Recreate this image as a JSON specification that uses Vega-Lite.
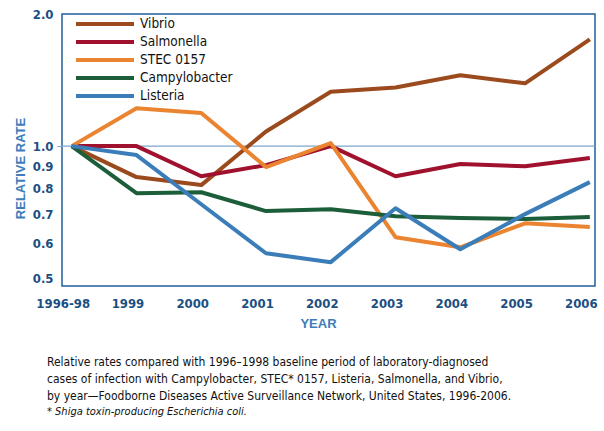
{
  "$schema": "https://vega.github.io/schema/vega-lite/v6.json",
  "autosize": {"type": "none"},
  "width": 533,
  "height": 272,
  "padding": {"left": 62, "top": 14, "right": 9, "bottom": 145},
  "background": "white",
  "config": {
    "view": {"stroke": "#1f5f99", "strokeWidth": 1.5},
    "font": "'DejaVu Sans Condensed', Roboto, sans-serif"
  },
  "title": {
    "text": ["Relative rates compared with 1996–1998 baseline period of laboratory-diagnosed", "cases of infection with Campylobacter, STEC* 0157, Listeria, Salmonella, and Vibrio,", "by year—Foodborne Diseases Active Surveillance Network, United States, 1996-2006."],
    "subtitle": "* Shiga toxin-producing Escherichia coli.",
    "orient": "bottom",
    "anchor": "start",
    "frame": "group",
    "dx": -15,
    "offset": 27,
    "font": "'DejaVu Sans Condensed', Roboto, sans-serif",
    "fontSize": 12,
    "fontWeight": "normal",
    "color": "#111111",
    "lineHeight": 17,
    "subtitleFont": "'DejaVu Sans Condensed', Roboto, sans-serif",
    "subtitleFontSize": 11,
    "subtitleFontStyle": "italic",
    "subtitleColor": "#111111",
    "subtitlePadding": 3
  },
  "data": {"values": [
    {"series": "Vibrio", "year": 1998, "rate": 1.0},
    {"series": "Vibrio", "year": 1999, "rate": 0.85},
    {"series": "Vibrio", "year": 2000, "rate": 0.815},
    {"series": "Vibrio", "year": 2001, "rate": 1.08},
    {"series": "Vibrio", "year": 2002, "rate": 1.33},
    {"series": "Vibrio", "year": 2003, "rate": 1.36},
    {"series": "Vibrio", "year": 2004, "rate": 1.45},
    {"series": "Vibrio", "year": 2005, "rate": 1.39},
    {"series": "Vibrio", "year": 2006, "rate": 1.75},
    {"series": "Salmonella", "year": 1998, "rate": 1.0},
    {"series": "Salmonella", "year": 1999, "rate": 1.0},
    {"series": "Salmonella", "year": 2000, "rate": 0.854},
    {"series": "Salmonella", "year": 2001, "rate": 0.905},
    {"series": "Salmonella", "year": 2002, "rate": 1.0},
    {"series": "Salmonella", "year": 2003, "rate": 0.854},
    {"series": "Salmonella", "year": 2004, "rate": 0.91},
    {"series": "Salmonella", "year": 2005, "rate": 0.9},
    {"series": "Salmonella", "year": 2006, "rate": 0.94},
    {"series": "STEC 0157", "year": 1998, "rate": 1.0},
    {"series": "STEC 0157", "year": 1999, "rate": 1.22},
    {"series": "STEC 0157", "year": 2000, "rate": 1.19},
    {"series": "STEC 0157", "year": 2001, "rate": 0.896},
    {"series": "STEC 0157", "year": 2002, "rate": 1.016},
    {"series": "STEC 0157", "year": 2003, "rate": 0.62},
    {"series": "STEC 0157", "year": 2004, "rate": 0.588},
    {"series": "STEC 0157", "year": 2005, "rate": 0.667},
    {"series": "STEC 0157", "year": 2006, "rate": 0.654},
    {"series": "Campylobacter", "year": 1998, "rate": 1.0},
    {"series": "Campylobacter", "year": 1999, "rate": 0.781},
    {"series": "Campylobacter", "year": 2000, "rate": 0.785},
    {"series": "Campylobacter", "year": 2001, "rate": 0.711},
    {"series": "Campylobacter", "year": 2002, "rate": 0.718},
    {"series": "Campylobacter", "year": 2003, "rate": 0.692},
    {"series": "Campylobacter", "year": 2004, "rate": 0.686},
    {"series": "Campylobacter", "year": 2005, "rate": 0.682},
    {"series": "Campylobacter", "year": 2006, "rate": 0.689},
    {"series": "Listeria", "year": 1998, "rate": 1.0},
    {"series": "Listeria", "year": 1999, "rate": 0.954},
    {"series": "Listeria", "year": 2000, "rate": 0.737},
    {"series": "Listeria", "year": 2001, "rate": 0.57},
    {"series": "Listeria", "year": 2002, "rate": 0.544},
    {"series": "Listeria", "year": 2003, "rate": 0.722},
    {"series": "Listeria", "year": 2004, "rate": 0.582},
    {"series": "Listeria", "year": 2005, "rate": 0.70},
    {"series": "Listeria", "year": 2006, "rate": 0.828}
  ]},
  "layer": [
    {
      "data": {"values": [{"ref": 1.0}]},
      "mark": {"type": "rule", "color": "#7ea6cc", "strokeWidth": 1.2},
      "encoding": {"y": {"field": "ref", "type": "quantitative", "scale": {"type": "log", "domain": [0.48, 2.0]}}}
    },
    {
      "mark": {"type": "line", "strokeWidth": 4, "strokeJoin": "round", "strokeCap": "butt"},
      "encoding": {
        "x": {
          "field": "year", "type": "quantitative",
          "scale": {"domain": [1997.85, 2006.08], "nice": false, "zero": false},
          "axis": {
            "values": [1998, 1999, 2000, 2001, 2002, 2003, 2004, 2005, 2006],
            "labelExpr": "datum.value == 1998 ? '1996-98' : datum.value",
            "title": "YEAR",
            "grid": false, "ticks": false, "domain": false,
            "labelFontWeight": "bold", "labelFontSize": 13,
            "labelColor": "#1b4f82", "labelPadding": 11, "labelOffset": -9,
            "titleFont": "Liberation Sans", "titleFontWeight": "bold", "titleFontSize": 13,
            "titleColor": "#3c7dba", "titleX": 256, "titleY": 37, "titleBaseline": "middle"
          }
        },
        "y": {
          "field": "rate", "type": "quantitative",
          "scale": {"type": "log", "domain": [0.48, 2.0]},
          "axis": {
            "values": [0.5, 0.6, 0.7, 0.8, 0.9, 1.0, 2.0],
            "format": ".1f",
            "labelOverlap": false,
            "title": "RELATIVE RATE",
            "grid": false, "domain": false,
            "tickSize": 5,
            "tickColor": {"condition": {"test": "datum.value == 1", "value": "#7ea6cc"}, "value": "transparent"},
            "labelFontWeight": "bold", "labelFontSize": 13,
            "labelColor": "#1b4f82", "labelPadding": 4,
            "titleFont": "Liberation Sans", "titleFontWeight": "bold", "titleFontSize": 13,
            "titleColor": "#3c7dba", "titleX": -42, "titleY": 154, "titleBaseline": "middle", "titleAngle": -90, "titleAlign": "center"
          }
        },
        "color": {
          "field": "series", "type": "nominal",
          "scale": {
            "domain": ["Vibrio", "Salmonella", "STEC 0157", "Campylobacter", "Listeria"],
            "range": ["#9a4a1c", "#a0112e", "#ea8430", "#1c5e3a", "#3a7db8"]
          },
          "legend": {
            "orient": "none", "legendX": 12, "legendY": 1,
            "title": null,
            "symbolType": "stroke", "symbolSize": 3364, "symbolStrokeWidth": 4,
            "clipHeight": 18, "rowPadding": 0,
            "labelFontSize": 13.5, "labelColor": "#111111",
            "labelOffset": 4
          }
        },
        "order": {"field": "year", "type": "quantitative"}
      }
    }
  ]
}
